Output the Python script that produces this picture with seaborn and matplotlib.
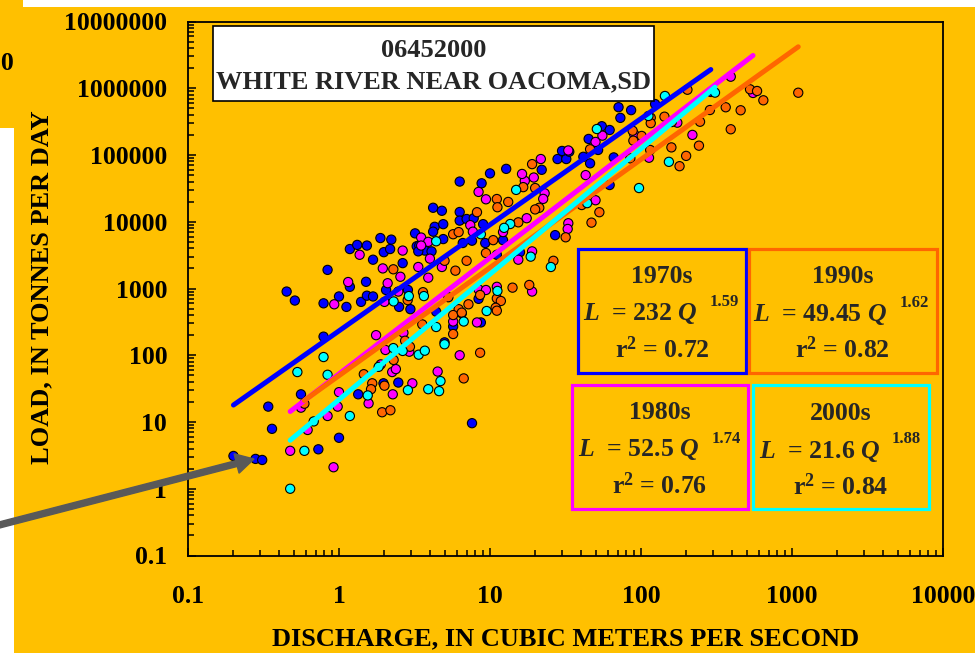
import numpy as np
import pandas as pd
import matplotlib
matplotlib.use("Agg")
import matplotlib.pyplot as plt
import seaborn as sns
from matplotlib.patches import Rectangle, FancyArrow
from matplotlib.ticker import LogLocator, FuncFormatter, NullFormatter

# Daily discharge (m3/s) and suspended-sediment load (tonnes/day) samples by decade
q_1970s = [0.20, 0.28, 0.31, 0.34, 0.36, 0.56, 0.45, 0.51, 0.79, 0.73,
           1.0, 0.84, 0.79, 1.0, 1.12, 1.18, 1.18, 1.32, 1.53, 1.68,
           1.88, 2.22, 1.98, 2.18, 2.64, 1.51, 1.40, 1.53, 1.68, 2.05,
           2.5, 2.86, 2.97, 3.19, 3.27, 2.47, 1.34, 1.97,
           6.3, 8.8, 4.2, 4.8, 6.3, 6.3, 7.0, 7.8, 9.0, 4.3,
           4.9, 4.2, 4.9, 3.4, 3.7, 4.1, 3.35,
           6.6, 9.3, 7.6, 12.2, 15.8, 11.1,
           4.4, 5.7, 5.0, 8.4, 8.7, 7.6,
           27, 10, 12.8, 28, 32, 30, 33.5, 22, 45, 41.5, 46,
           71, 86, 73, 55, 62, 52, 66, 62, 124, 290]
l_1970s = [3.1, 2.8, 2.7, 17, 7.9, 26, 900, 660, 190, 3.9,
           5.8, 1900, 600, 760, 530, 1060, 3900, 4500, 4400, 2700,
           5700, 5400, 3500, 3900, 2400, 1260, 630, 780, 760, 950,
           530, 950, 490, 6700, 4300, 39, 26, 38,
           40000, 37700, 16200, 14600, 14000, 10400, 11000, 11300, 9200, 8400,
           9200, 7100, 5500, 4400, 3700, 3600, 3600,
           4800, 4800, 5200, 5300, 3500, 3200,
           450, 270, 156, 700, 310, 9.6,
           6300, 53000, 62000, 87000, 87000, 115000, 112000, 60000, 174000, 94000, 75000,
           520000, 470000, 360000, 270000, 237000, 119000, 92000, 35500, 580000, 880000]

q_1980s = [0.475, 0.62, 0.56, 0.84, 0.92, 0.98, 1.0, 0.93, 1.15, 1.37,
           1.76, 1.57, 2.27, 1.95, 2.1, 2.55, 2.64, 2.0, 2.47, 2.03,
           2.25, 3.06, 1.89, 2.38, 2.81, 2.92, 8.4, 9.4, 7.4, 7.7,
           3.5, 3.9, 4.0, 3.35, 4.8, 3.9, 6.3, 4.5, 5.7, 6.5,
           8.2, 8.4, 9.4, 11.1, 12.2, 15.4, 19, 19, 17, 23,
           22.5, 17.5, 33, 32.7, 21.7, 16.3, 19.5, 33, 50, 43,
           174, 393, 552, 55.5, 90, 113, 219, 50, 3.5, 2.67]
l_1980s = [3.7, 7.6, 16.4, 12.3, 2.1, 17, 28, 580, 1250, 3200,
           200, 19, 26, 2000, 1200, 1500, 3700, 630, 900, 120,
           56, 38, 73, 62, 123, 113, 28000, 21700, 8900, 7100,
           5800, 5000, 2800, 2100, 2100, 1450, 100, 57, 320, 425,
           310, 970, 950, 1060, 7000, 2700, 3600, 900, 41000, 26700,
           22000, 11300, 9500, 7800, 87000, 52000, 46000, 117000, 157000, 50000,
           305000, 1490000, 850000, 195000, 206000, 91000, 200000, 21000, 4400, 217]

q_1990s = [0.59, 1.66, 2.0, 1.63, 1.93, 2.19, 2.3, 2.29, 2.85, 2.74,
           2.95, 1.46, 8.2, 11.1, 13.2, 11.2, 5.7, 6.2, 10.5, 9.4,
           7.0, 5.9, 5.0, 15.4, 16.6, 21.2, 19.9, 26.3, 31.7, 14.1,
           18.2, 11.1, 11.8, 10.9, 11.1, 7.2, 8.6, 6.2, 5.7, 6.5,
           5.7, 8.6, 6.7, 3.6, 5.3, 3.56, 19, 19.9, 46, 116,
           116, 143, 160, 203, 286, 246, 364, 457, 393, 527,
           587, 646, 1100, 88, 89, 101, 85, 115, 159, 199,
           180, 242, 40.5, 53, 47]
l_1990s = [18.8, 38, 35, 31, 14, 15, 85, 1940, 670, 165,
           134, 52, 13900, 21900, 19800, 16500, 6500, 7000, 5300, 3400,
           2600, 1850, 2600, 9800, 33000, 16200, 15300, 2600, 5850, 1030,
           1130, 710, 650, 515, 465, 580, 800, 490, 400, 435,
           208, 109, 45, 880, 740, 290, 73000, 32000, 122000, 362000,
           300000, 375000, 312000, 950000, 472000, 315000, 519000, 468000, 243000, 965000,
           910000, 660000, 857000, 231000, 164000, 193000, 89000, 119000, 130000, 97000,
           68000, 138000, 17800, 13900, 9700]

q_2000s = [0.475, 0.59, 0.68, 0.53, 0.79, 0.84, 1.18, 1.55, 2.3, 2.9,
           2.64, 2.29, 2.86, 1.83, 3.37, 4.4, 14.9, 13.6, 12.4, 18.6,
           25.3, 11.2, 3.65, 9.5, 6.7, 4.4, 5.0, 3.7, 3.9, 4.6,
           4.7, 51, 144, 112, 309, 153, 97, 44, 8.7]
l_2000s = [1.0, 3.7, 10.2, 56, 94, 51, 12.3, 25, 640, 770,
           116, 128, 30, 67, 102, 5100, 30000, 9250, 8100, 3000,
           2100, 920, 770, 460, 320, 265, 146, 117, 31, 29,
           41, 245000, 766000, 384000, 860000, 79000, 32000, 19000, 6500]

# Power-law rating curves L = a * Q^b for each decade
decades = ["1970s", "1980s", "1990s", "2000s"]
coef = [232, 52.5, 49.45, 21.6]
expo = [1.59, 1.74, 1.62, 1.88]
r2 = [0.72, 0.76, 0.82, 0.84]

x_ticks = [0.1, 1, 10, 100, 1000, 10000]
y_ticks = [0.1, 1, 10, 100, 1000, 10000, 100000, 1000000, 10000000]

station_id = "06452000"
station_name = "WHITE RIVER NEAR OACOMA,SD"

BG = "#FFC000"
colors = {"1970s": "#0000FF", "1980s": "#FF00FF", "1990s": "#FF6600", "2000s": "#00FFFF"}

sns.set_theme(style="ticks")
plt.rcParams["font.family"] = ["Liberation Serif", "DejaVu Serif"]
plt.rcParams["font.weight"] = "bold"
plt.rcParams["mathtext.fontset"] = "custom"
plt.rcParams["mathtext.rm"] = "Liberation Serif:bold"
plt.rcParams["mathtext.it"] = "Liberation Serif:bold:italic"
plt.rcParams["mathtext.bf"] = "Liberation Serif:bold"

W, H = 975, 653
fig = plt.figure(figsize=(W / 100, H / 100), dpi=100, facecolor=BG)
ax = fig.add_axes([188 / W, 1 - 555.5 / H, 755 / W, 534 / H])
ax.set_facecolor(BG)

frames = []
for name, q, l in zip(decades, [q_1970s, q_1980s, q_1990s, q_2000s],
                      [l_1970s, l_1980s, l_1990s, l_2000s]):
    frames.append(pd.DataFrame({"Q": q, "L": l, "decade": name}))
df = pd.concat(frames, ignore_index=True)

ax.set_xscale("log")
ax.set_yscale("log")

sns.scatterplot(data=df, x="Q", y="L", hue="decade", hue_order=decades,
                palette=colors, s=44, edgecolor="black", linewidth=0.8,
                legend=False, ax=ax, zorder=3)

# Fitted curves across each decade's observed discharge range
for d in ["1980s", "1990s", "2000s", "1970s"]:
    i = decades.index(d)
    sub = df[df["decade"] == d]
    qq = np.array([sub["Q"].min(), sub["Q"].max()])
    ll = coef[i] * qq ** expo[i]
    ax.plot(qq, ll, color=colors[d], lw=3.6, solid_capstyle="round", zorder=4)

ax.set_xlim(x_ticks[0], x_ticks[-1])
ax.set_ylim(y_ticks[0], y_ticks[-1])

fmt = FuncFormatter(lambda v, _: f"{v:.0f}" if v >= 1 else f"{v:g}")
for axis, ticks in [(ax.xaxis, x_ticks), (ax.yaxis, y_ticks)]:
    axis.set_major_locator(matplotlib.ticker.FixedLocator(ticks))
    axis.set_minor_locator(LogLocator(base=10, subs=np.arange(2, 10), numticks=100))
    axis.set_major_formatter(fmt)
    axis.set_minor_formatter(NullFormatter())

ax.tick_params(which="both", direction="in", top=False, right=False,
               width=1.1, color="black", labelcolor="black")
ax.tick_params(which="major", length=6, labelsize=18.5)
ax.tick_params(which="minor", length=4.3)
ax.tick_params(axis="x", pad=21)
ax.tick_params(axis="y", pad=15)
for sp in ax.spines.values():
    sp.set_color("black")
    sp.set_linewidth(1.3)
    sp.set_visible(True)

ax.set_xlabel("DISCHARGE, IN CUBIC METERS PER SECOND", fontsize=19,
              fontweight="bold", color="black", va="baseline")
ax.xaxis.set_label_coords(0.5, (555.5 - 645) / 534)
ax.set_ylabel("LOAD, IN TONNES PER DAY", fontsize=19, fontweight="bold",
              color="black", va="baseline")
ax.yaxis.set_label_coords((48.3 - 188) / 755, (555.5 - 287) / 534)

# Overlay in pixel units for the annotation boxes
ov = fig.add_axes([0, 0, 1, 1], zorder=10)
ov.set_xlim(0, W)
ov.set_ylim(H, 0)
ov.axis("off")
ov.patch.set_alpha(0)

ov.add_patch(Rectangle((23, 0), W - 23, 7, facecolor="white", edgecolor="none", zorder=0))
ov.add_patch(Rectangle((0, 128), 14, H - 128, facecolor="white", edgecolor="none", zorder=0))
ov.text(13.5, 70, "00", ha="right", va="baseline", fontsize=18.5, fontweight="bold", color="black")

ov.add_patch(Rectangle((213.3, 26.3), 440.7, 74.4, facecolor="white",
                       edgecolor="black", lw=1.2, zorder=2))
ov.text(433.5, 57.3, station_id, ha="center", va="baseline", fontsize=19, zorder=3)
ov.text(433.5, 88.3, station_name, ha="center", va="baseline", fontsize=19, zorder=3)

boxes = {
    "1970s": dict(rect=(577.7, 249, 168.3, 123.7), cx=661.9, base=282.7, lx=583.3, exp_x=724.0, exp_b=305.7),
    "1990s": dict(rect=(748.8, 249, 188.2, 124.3), cx=842.9, base=283.3, lx=753.3, exp_x=914.7, exp_b=306.7),
    "1980s": dict(rect=(571.7, 385, 176.1, 123.7), cx=659.8, base=419.0, lx=578.3, exp_x=725.8, exp_b=443.3),
    "2000s": dict(rect=(753.0, 385, 176.0, 124.0), cx=841.0, base=420.0, lx=759.3, exp_x=906.3, exp_b=443.3),
}
for d, b in boxes.items():
    i = decades.index(d)
    x0, y0, w, h = b["rect"]
    ov.add_patch(Rectangle((x0, y0), w, h, facecolor=BG, edgecolor=colors[d], lw=2.3, zorder=2))
    ov.text(b["cx"], b["base"], d, ha="center", va="baseline", fontsize=18.5, zorder=3)
    ov.text(b["lx"], b["base"] + 37.5, rf"$L$  = {coef[i]:g} $Q$", ha="left",
            va="baseline", fontsize=18.5, zorder=3)
    ov.text(b["exp_x"], b["exp_b"], f"{expo[i]:.2f}", ha="center", va="baseline",
            fontsize=12, zorder=3)
    ov.text(b["cx"], b["base"] + 75, rf"r$^{{2}}$ = {r2[i]:.2f}", ha="center",
            va="baseline", fontsize=18.5, zorder=3)

ov.add_patch(FancyArrow(-20, 530, 274, -71, width=6, head_width=20, head_length=18,
                        length_includes_head=True, color="#595959", zorder=5,
                        clip_on=False))

fig.savefig("out.png", dpi=100, facecolor=BG)
